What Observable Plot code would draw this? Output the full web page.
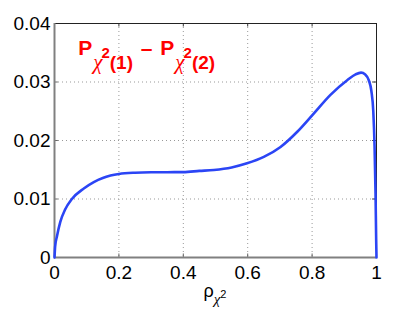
<!DOCTYPE html>
<html>
<head>
<meta charset="utf-8">
<script src="https://cdn.jsdelivr.net/npm/d3@7"></script>
<script src="https://cdn.jsdelivr.net/npm/@observablehq/plot@0.6"></script>
<style>
  html, body { margin: 0; padding: 0; background: #fff; }
  #chart { width: 415px; height: 312px; }
</style>
</head>
<body>
<div id="chart"></div>
<script>
// Data
const rho = [0, 0.002, 0.0075, 0.018, 0.033, 0.054, 0.091, 0.122, 0.15, 0.174, 0.2, 0.25, 0.3, 0.35, 0.4, 0.45, 0.495, 0.55, 0.598, 0.65, 0.702, 0.754, 0.805, 0.857, 0.909, 0.935, 0.952, 0.965, 0.976, 0.984, 0.99, 0.994, 0.997, 0.999, 1];
const diff = [0, 0.0019, 0.0036, 0.0061, 0.0082, 0.0100, 0.0118, 0.0129, 0.0136, 0.0140, 0.01428, 0.01450, 0.01457, 0.01458, 0.01460, 0.0148, 0.01497, 0.0154, 0.0161, 0.0172, 0.0189, 0.0215, 0.0246, 0.0278, 0.0303, 0.0313, 0.0316, 0.0313, 0.0303, 0.0285, 0.0250, 0.0190, 0.011, 0.003, 0];
const xTicks = [0, 0.2, 0.4, 0.6, 0.8, 1];
const yTicks = [0, 0.01, 0.02, 0.03, 0.04];
const xTickLabels = ["0", "0.2", "0.4", "0.6", "0.8", "1"];
const yTickLabels = ["0", "0.01", "0.02", "0.03", "0.04"];
const titleTerms = ["(1)", "(2)"];
const titleAnchor = {x: 0.075, y: 0.03452};

const data = rho.map((r, i) => ({x: r, y: diff[i]}));
const font = "'Liberation Sans', Arial, Helvetica, sans-serif";
const greek = "'Liberation Serif', 'DejaVu Serif', serif";

const plot = Plot.plot({
  width: 415,
  height: 312,
  marginLeft: 54,
  marginRight: 39,
  marginTop: 23,
  marginBottom: 55,
  style: {fontFamily: font, fontSize: "19px", color: "#000", background: "#fff"},
  x: {domain: [0, 1]},
  y: {domain: [0, 0.04]},
  marks: [
    Plot.gridX(xTicks, {stroke: "#999", strokeOpacity: 1, strokeDasharray: "1,3", strokeWidth: 1}),
    Plot.gridY(yTicks, {stroke: "#999", strokeOpacity: 1, strokeDasharray: "1,3", strokeWidth: 1}),
    // inward ticks (MATLAB style)
    Plot.ruleY(yTicks, {x1: 0, x2: 0.012, stroke: "#666"}),
    Plot.ruleY(yTicks, {x1: 0.988, x2: 1, stroke: "#333"}),
    Plot.ruleX(xTicks, {y1: 0, y2: 0.0006, stroke: "#666"}),
    Plot.ruleX(xTicks, {y1: 0.0394, y2: 0.04, stroke: "#333"}),
    // frame
    Plot.ruleY([0.04], {stroke: "#222", strokeWidth: 1}),
    Plot.ruleX([1], {stroke: "#222", strokeWidth: 1}),
    Plot.ruleX([0], {stroke: "#808080", strokeWidth: 2}),
    Plot.ruleY([0], {stroke: "#808080", strokeWidth: 2}),
    Plot.axisX(xTicks, {tickSize: 0, tickPadding: 8, tickFormat: (d, i) => xTickLabels[i], label: null, fontSize: 19}),
    Plot.axisY(yTicks, {tickSize: 0, tickPadding: 4, tickFormat: (d, i) => yTickLabels[i], label: null, fontSize: 19}),
    Plot.line(data, {x: "x", y: "y", stroke: "#2b45f5", strokeWidth: 2.6, curve: "monotone-x"})
  ]
});
document.getElementById("chart").appendChild(plot);

// Title inside plot (red, bold, with sub/superscripts)
const sx = plot.scale("x"), sy = plot.scale("y");
const svg = d3.select(plot);
const y0 = sy.apply(titleAnchor.y);
const t = svg.append("text")
  .attr("x", sx.apply(titleAnchor.x))
  .attr("y", y0)
  .attr("text-anchor", "start")
  .attr("fill", "#ff0000")
  .attr("font-family", font)
  .attr("font-weight", "bold")
  .attr("font-size", 21);
titleTerms.forEach((n, i) => {
  if (i > 0) {
    t.append("tspan").attr("y", y0).attr("dx", 2).text(" \u2013");
    t.append("tspan").attr("y", y0).attr("dx", 2).text(" P");
  } else {
    t.append("tspan").attr("y", y0).text("P");
  }
  t.append("tspan").attr("y", y0 + 13.5).attr("font-size", 21).attr("font-family", greek)
    .attr("font-style", "italic").attr("font-weight", "normal").attr("dx", 1).text("\u03C7");
  t.append("tspan").attr("y", y0 + 3).attr("font-size", 15).attr("dx", -1).text("2");
  t.append("tspan").attr("y", y0 + 13.5).attr("font-size", 19).text(n);
});

// x label: rho_{chi^2}
const xl = svg.append("text")
  .attr("x", sx.apply(0.5))
  .attr("y", 297)
  .attr("text-anchor", "middle")
  .attr("fill", "#000")
  .attr("font-family", font)
  .attr("font-size", 18);
xl.append("tspan").text("\u03C1");
xl.append("tspan").attr("font-size", 15).attr("font-family", greek).attr("font-style", "italic").attr("dy", 7).text("\u03C7");
xl.append("tspan").attr("font-size", 11).attr("dy", -6).text("2");
</script>
</body>
</html>
